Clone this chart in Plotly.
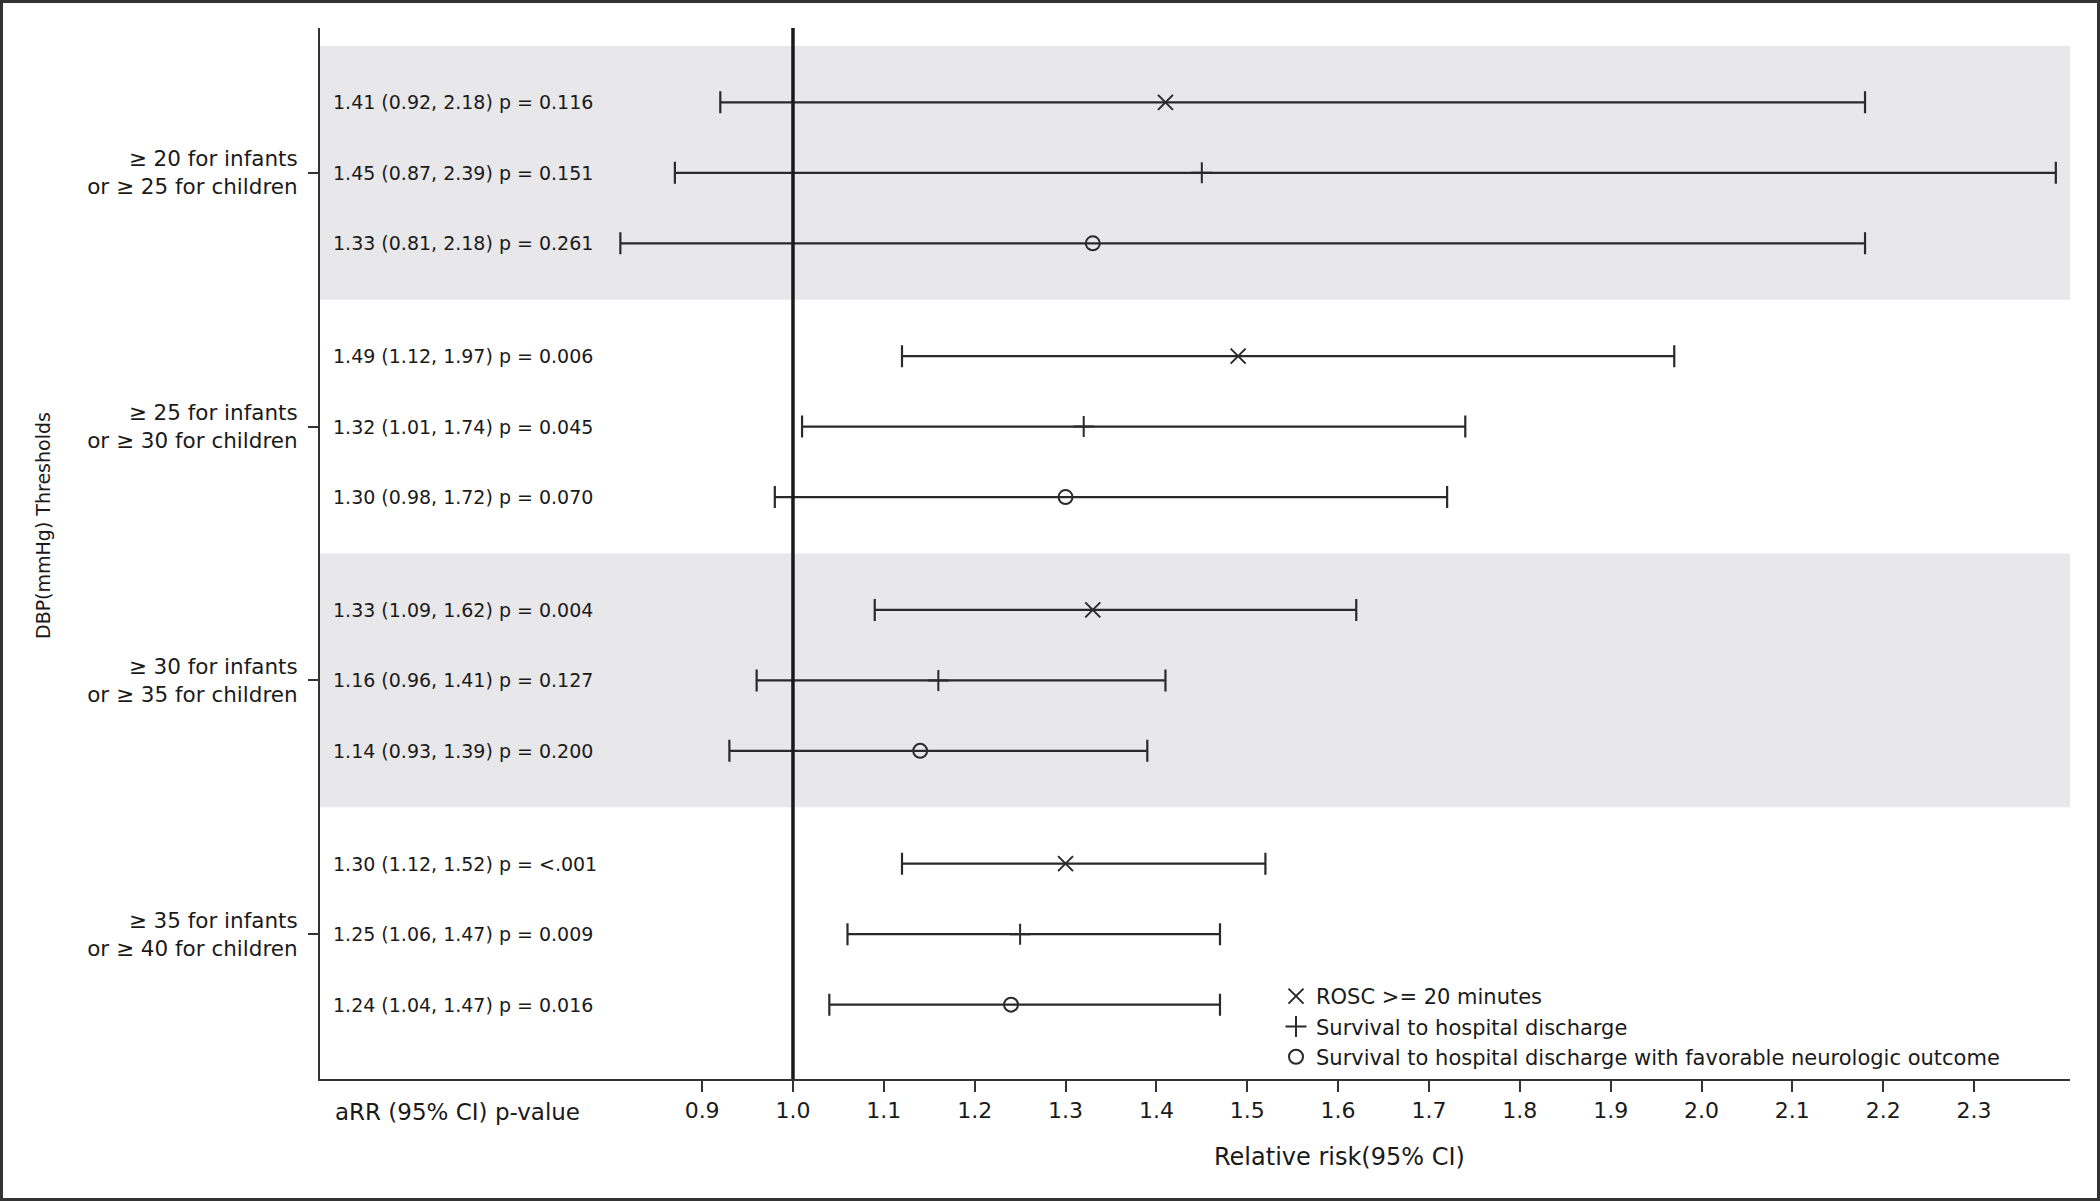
import plotly.graph_objects as go

# region Data
GROUPS = [
    "≥ 20 for infants<br>or ≥ 25 for children",
    "≥ 25 for infants<br>or ≥ 30 for children",
    "≥ 30 for infants<br>or ≥ 35 for children",
    "≥ 35 for infants<br>or ≥ 40 for children",
]
OUTCOMES = [
    "ROSC >= 20 minutes",
    "Survival to hospital discharge",
    "Survival to hospital discharge with favorable neurologic outcome",
]
SYMBOLS = ["x-thin", "cross-thin", "circle-open"]

ROSC_RR = [1.41, 1.49, 1.33, 1.30]
ROSC_LO = [0.92, 1.12, 1.09, 1.12]
ROSC_HI = [2.18, 1.97, 1.62, 1.52]
ROSC_P = ["0.116", "0.006", "0.004", "<.001"]

SURV_RR = [1.45, 1.32, 1.16, 1.25]
SURV_LO = [0.87, 1.01, 0.96, 1.06]
SURV_HI = [2.39, 1.74, 1.41, 1.47]
SURV_P = ["0.151", "0.045", "0.127", "0.009"]

NEURO_RR = [1.33, 1.30, 1.14, 1.24]
NEURO_LO = [0.81, 0.98, 0.93, 1.04]
NEURO_HI = [2.18, 1.72, 1.39, 1.47]
NEURO_P = ["0.261", "0.070", "0.200", "0.016"]

TICK_VALS = [0.9, 1.0, 1.1, 1.2, 1.3, 1.4, 1.5, 1.6, 1.7, 1.8, 1.9, 2.0, 2.1, 2.2, 2.3]
# endregion

# region Layout constants
W, H = 2100, 1201
ML, MR, MT, MB = 320, 30, 28, 122
PW, PH = W - ML - MR, H - MT - MB

GROUP_SPAN = 3.6     # vertical units per threshold band
ROW_PAD = 0.8        # offset of first row inside a band
X_RANGE = [0.4794, 2.4056]
Y_RANGE = [GROUP_SPAN * 4 + 0.255, -0.255]

FONT = "DejaVu Sans, Liberation Sans, Arial, sans-serif"
INK = "#2a2a2a"
TXT = "#1a1a1a"
BAND = "#E8E7EA"


def px_x(px):
    # page pixel -> paper x
    return (px - ML) / PW


def px_y(px):
    # page pixel -> paper y
    return 1 - (px - MT) / PH
# endregion

series = [
    (ROSC_RR, ROSC_LO, ROSC_HI, ROSC_P),
    (SURV_RR, SURV_LO, SURV_HI, SURV_P),
    (NEURO_RR, NEURO_LO, NEURO_HI, NEURO_P),
]

fig = go.Figure()

for k, (rr, lo, hi, pv) in enumerate(series):
    ys = [g * GROUP_SPAN + ROW_PAD + k for g in range(len(GROUPS))]
    fig.add_trace(go.Scatter(
        name=OUTCOMES[k],
        x=rr,
        y=ys,
        mode="markers",
        marker=dict(symbol=SYMBOLS[k], size=15 if k < 2 else 14, color=INK,
                    line=dict(width=2, color=INK)),
        error_x=dict(
            type="data", symmetric=False,
            array=[h - r for h, r in zip(hi, rr)],
            arrayminus=[r - l for r, l in zip(rr, lo)],
            color=INK, thickness=2.2, width=11,
        ),
        cliponaxis=False,
    ))
    for y, r, l, h, p in zip(ys, rr, lo, hi, pv):
        fig.add_annotation(
            x=px_x(331), xref="paper", y=y, yref="y",
            text=f"{r:.2f} ({l:.2f}, {h:.2f}) p = {p}",
            showarrow=False, xanchor="left", yanchor="middle",
            font=dict(family=FONT, size=19, color=TXT),
        )

# grey bands behind groups 1 and 3
for g in (0, 2):
    fig.add_shape(type="rect", xref="paper", yref="y",
                  x0=0, x1=1, y0=g * GROUP_SPAN, y1=(g + 1) * GROUP_SPAN,
                  fillcolor=BAND, line=dict(width=0), layer="below")

# null line at RR = 1
fig.add_shape(type="line", xref="x", yref="paper", x0=1.0, x1=1.0, y0=0, y1=1,
              line=dict(color=TXT, width=3.5))

# outer frame around the whole figure
fig.add_shape(type="rect", xref="paper", yref="paper",
              x0=px_x(1.5), x1=px_x(W - 1.5), y0=px_y(H - 1.5), y1=px_y(1.5),
              line=dict(color="#333333", width=3), fillcolor="rgba(0,0,0,0)")

fig.add_annotation(
    x=px_x(457), xref="paper", y=px_y(1112), yref="paper",
    text="aRR (95% CI) p-value", showarrow=False,
    xanchor="center", yanchor="middle",
    font=dict(family=FONT, size=23, color=TXT),
)
fig.add_annotation(
    x=px_x(1339), xref="paper", y=px_y(1157), yref="paper",
    text="Relative risk(95% CI)", showarrow=False,
    xanchor="center", yanchor="middle",
    font=dict(family=FONT, size=24, color=TXT),
)
fig.add_annotation(
    x=px_x(43), xref="paper", y=px_y(526), yref="paper",
    text="DBP(mmHg) Thresholds", textangle=-90, showarrow=False,
    xanchor="center", yanchor="middle",
    font=dict(family=FONT, size=19, color=TXT),
)

fig.update_layout(
    width=W, height=H,
    margin=dict(l=ML, r=MR, t=MT, b=MB),
    paper_bgcolor="white", plot_bgcolor="white",
    font=dict(family=FONT, color=TXT),
    showlegend=True,
    legend=dict(
        x=px_x(1276), xanchor="left",
        y=px_y(976), yanchor="top",
        bgcolor="rgba(0,0,0,0)", borderwidth=0,
        font=dict(family=FONT, size=21, color=TXT),
        tracegroupgap=0,
    ),
    xaxis=dict(
        range=X_RANGE, tickvals=TICK_VALS, tickformat=".1f",
        showgrid=False, zeroline=False,
        showline=True, linecolor="#333333", linewidth=2,
        ticks="outside", ticklen=11, tickwidth=2, tickcolor="#333333",
        tickfont=dict(family=FONT, size=22, color=TXT),
    ),
    yaxis=dict(
        range=Y_RANGE,
        tickvals=[g * GROUP_SPAN + ROW_PAD + 1 for g in range(len(GROUPS))],
        ticktext=GROUPS,
        showgrid=False, zeroline=False,
        showline=True, linecolor="#333333", linewidth=2,
        ticks="outside", ticklen=10, tickwidth=2, tickcolor="#333333",
        ticklabelstandoff=6,
        tickfont=dict(family=FONT, size=21.5, color=TXT),
    ),
)

fig.write_html(
    "out.html",
    config={"displayModeBar": False},
    post_script="document.body.style.margin='0';document.body.style.overflow='hidden';",
)
